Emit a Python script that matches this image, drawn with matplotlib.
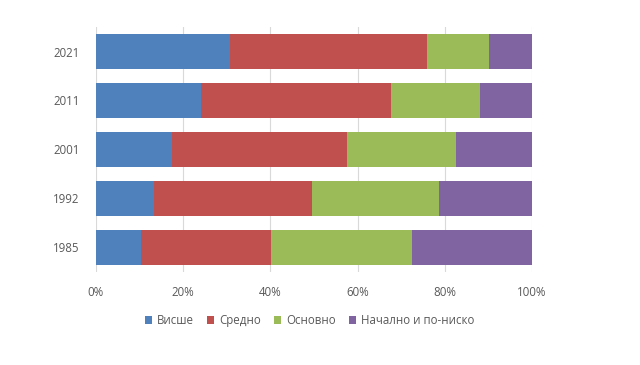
import matplotlib
matplotlib.use("Agg")
from matplotlib import pyplot as plt
import numpy as np

plt.rcParams['font.family'] = ['Open Sans', 'DejaVu Sans']

# години (отгоре надолу) и дялове в %
godini = ['2021', '2011', '2001', '1992', '1985']
vishe = [30.7, 24.0, 17.4, 13.2, 10.4]
sredno = [45.2, 43.6, 40.2, 36.3, 29.7]
osnovno = [14.2, 20.5, 25.0, 29.3, 32.5]
nachalno = [9.9, 11.9, 17.4, 21.2, 27.4]

serii = ['Висше', 'Средно', 'Основно', 'Начално и по-ниско']
cvetove = ['#4F81BD', '#C0504D', '#9BBB59', '#8064A2']

fig = plt.figure(figsize=(6.4, 3.65), dpi=100)
ax = fig.add_axes([0.15, 0.255, 0.681, 0.671])

y = np.arange(len(godini))
lyavo = np.zeros(len(godini))
for ime, dannii, cvyat in zip(serii, [vishe, sredno, osnovno, nachalno], cvetove):
    ax.barh(y, dannii, left=lyavo, height=0.72, color=cvyat, label=ime, zorder=2)
    lyavo = lyavo + np.array(dannii)

ax.set_xlim(0, 100)
ax.set_ylim(len(godini) - 0.5, -0.5)
ax.set_yticks(y)
ax.set_yticklabels(godini)
ax.set_xticks([0, 20, 40, 60, 80, 100])
ax.set_xticklabels(['0%', '20%', '40%', '60%', '80%', '100%'])
ax.tick_params(axis='both', length=0, labelsize=8.3, colors='#595959')
ax.tick_params(axis='x', pad=10)
ax.tick_params(axis='y', pad=12)
ax.grid(axis='x', color='#D9D9D9', linewidth=0.8, zorder=0)
for s in ax.spines.values():
    s.set_visible(False)

ax.legend(loc='upper center', bbox_to_anchor=(0.49, -0.13), ncol=4, frameon=False,
          fontsize=8.3, handlelength=0.6, handleheight=0.6, handletextpad=0.4,
          columnspacing=1.2, labelcolor='#595959')

fig.savefig('out.png', dpi=100)
